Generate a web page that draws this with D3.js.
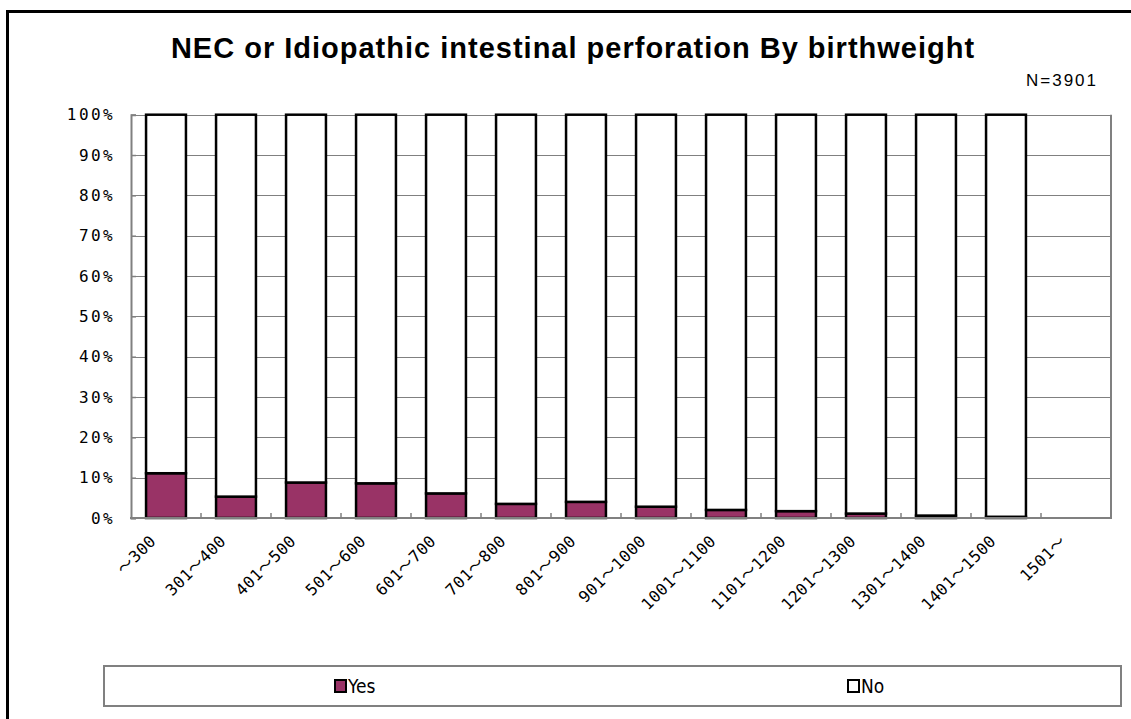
<!doctype html>
<html lang='en'>
<head>
<meta charset='UTF-8'>
<title>NEC by birthweight</title>
<script src='https://cdn.jsdelivr.net/npm/d3@7'></script>
<style>
  body, html { margin: 0; padding: 0; background: #fff; }
  .tick-label { font-family: 'DejaVu Sans Mono', 'Noto Sans CJK JP', monospace; font-size: 16px; fill: #000; }
  .grid line { stroke: #808080; stroke-width: 1; shape-rendering: crispEdges; }
</style>
</head>
<body>
<script>
  // data (percent)
  const categories = ['～300', '301～400', '401～500', '501～600', '601～700', '701～800', '801～900',
    '901～1000', '1001～1100', '1101～1200', '1201～1300', '1301～1400', '1401～1500', '1501～']
  const yesValues = [11.1, 5.3, 8.8, 8.6, 6.1, 3.5, 4.0, 2.8, 2.0, 1.7, 1.1, 0.6, 0.3, 0]
  const noValues = [88.9, 94.7, 91.2, 91.4, 93.9, 96.5, 96.0, 97.2, 98.0, 98.3, 98.9, 99.4, 99.7, 0]
  const yTicks = [0, 10, 20, 30, 40, 50, 60, 70, 80, 90, 100]
  const seriesNames = ['Yes', 'No']
  const seriesColors = ['#993366', '#ffffff']

  const W = 1131, H = 719
  const plot = {left: 131, right: 1111, top: 114.7, bottom: 518}

  const svg = d3.select('body').append('svg')
    .attr('width', W)
    .attr('height', H)

  // outer frame (runs off the right and bottom edge)
  svg.append('rect')
    .attr('x', 7.5).attr('y', 11.5)
    .attr('width', 1300).attr('height', 900)
    .attr('fill', '#fff')
    .attr('stroke', '#000')
    .attr('stroke-width', 3)

  const x = d3.scaleBand()
    .domain(categories)
    .range([plot.left, plot.right])
    .paddingInner(0.43)
    .paddingOuter(0.215)

  const y = d3.scaleLinear()
    .domain([0, 100])
    .range([plot.bottom, plot.top])

  // gridlines
  svg.append('g')
    .attr('class', 'grid')
    .selectAll('line')
    .data(yTicks.slice(1))
    .enter()
    .append('line')
    .attr('x1', plot.left).attr('x2', plot.right)
    .attr('y1', d => Math.round(y(d)) + 0.5).attr('y2', d => Math.round(y(d)) + 0.5)

  // right border of plot
  svg.append('line')
    .attr('x1', plot.right).attr('x2', plot.right)
    .attr('y1', plot.top).attr('y2', plot.bottom)
    .attr('stroke', '#808080').attr('stroke-width', 2)

  // y axis
  const yAxis = d3.axisLeft(y)
    .tickValues(yTicks)
    .tickSize(-5)
    .tickPadding(16)
    .tickFormat(d => d + '%')

  const gy = svg.append('g')
    .attr('transform', `translate(${plot.left},0)`)
    .call(yAxis)
  gy.select('.domain').attr('stroke', '#808080').attr('stroke-width', 2)
  gy.selectAll('.tick line').attr('stroke', '#808080').attr('stroke-width', 1.5)
  gy.selectAll('.tick text')
    .attr('class', 'tick-label')
    .attr('font-family', null).attr('font-size', null)
    .style('letter-spacing', '2.4px')

  // stacked bars
  const stackData = categories.map((c, i) => ({key: c, Yes: yesValues[i], No: noValues[i]}))
  const stacked = d3.stack().keys(seriesNames)(stackData)

  svg.append('g')
    .selectAll('g')
    .data(stacked)
    .enter()
    .append('g')
    .attr('fill', (d, i) => seriesColors[i])
    .selectAll('rect')
    .data(d => d.filter(p => p[1] - p[0] > 0))
    .enter()
    .append('rect')
    .attr('x', d => x(d.data.key))
    .attr('y', d => y(d[1]))
    .attr('width', x.bandwidth())
    .attr('height', d => y(d[0]) - y(d[1]))
    .attr('stroke', '#000')
    .attr('stroke-width', 2.5)

  // x axis line + ticks between categories
  const gx = svg.append('g')
  gx.append('line')
    .attr('x1', plot.left - 1).attr('x2', plot.right + 1)
    .attr('y1', plot.bottom).attr('y2', plot.bottom)
    .attr('stroke', '#808080').attr('stroke-width', 2)
  gx.selectAll('.xtick')
    .data(categories)
    .enter()
    .append('line')
    .attr('x1', d => x(d) + x.bandwidth() + (x.step() - x.bandwidth()) / 2)
    .attr('x2', d => x(d) + x.bandwidth() + (x.step() - x.bandwidth()) / 2)
    .attr('y1', plot.bottom).attr('y2', plot.bottom - 5)
    .attr('stroke', '#808080').attr('stroke-width', 1.5)

  gx.selectAll('.xlabel')
    .data(categories)
    .enter()
    .append('text')
    .attr('class', 'tick-label')
    .attr('text-anchor', 'end')
    .style('font-size', '16px')
    .style('letter-spacing', '0.5px')
    .attr('transform', d => `translate(${x(d) + x.bandwidth() / 2 - 9},${plot.bottom + 24}) rotate(-45)`)
    .text(d => d)

  // title
  svg.append('text')
    .attr('x', 573).attr('y', 58)
    .attr('text-anchor', 'middle')
    .attr('font-family', 'Liberation Sans, Arial, sans-serif')
    .attr('font-weight', 'bold')
    .attr('font-size', 29)
    .style('letter-spacing', '1px')
    .text('NEC or Idiopathic intestinal perforation By birthweight')

  svg.append('text')
    .attr('x', 1098).attr('y', 86)
    .attr('text-anchor', 'end')
    .attr('font-family', 'Liberation Sans, Arial, sans-serif')
    .attr('font-size', 17)
    .style('letter-spacing', '2px')
    .text('N=3901')

  // legend
  const legend = svg.append('g')
  legend.append('rect')
    .attr('x', 104).attr('y', 666)
    .attr('width', 1017).attr('height', 40)
    .attr('fill', '#fff')
    .attr('stroke', '#808080')
    .attr('stroke-width', 2)

  const legendX = [335, 848]
  const items = legend.selectAll('.item')
    .data(seriesNames)
    .enter()
    .append('g')
    .attr('transform', (d, i) => `translate(${legendX[i]},680)`)
  items.append('rect')
    .attr('width', 11).attr('height', 12)
    .attr('fill', (d, i) => seriesColors[i])
    .attr('stroke', '#000')
    .attr('stroke-width', 2)
  items.append('text')
    .attr('x', 13).attr('y', 13)
    .attr('font-family', 'DejaVu Sans Condensed, Liberation Sans Narrow, sans-serif')
    .attr('font-size', 19)
    .style('font-stretch', 'condensed')
    .text(d => d)
</script>
</body>
</html>
